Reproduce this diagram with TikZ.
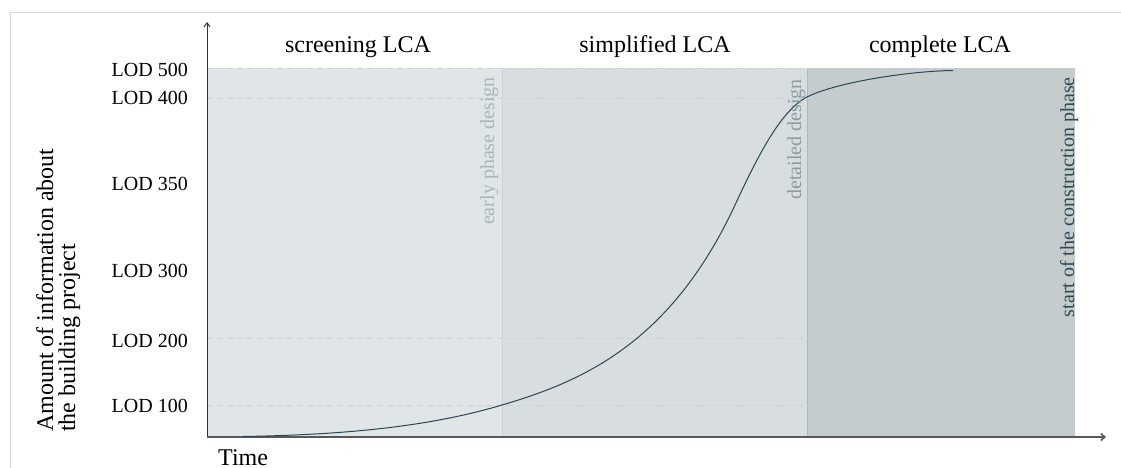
\documentclass[tikz,border=0pt]{standalone}
\usepackage{fontspec}
\setmainfont{Liberation Serif}
\usetikzlibrary{arrows.meta}
\definecolor{regA}{HTML}{E0E6E8}
\definecolor{regB}{HTML}{D8DDE0}
\definecolor{regC}{HTML}{C5CCCE}
\definecolor{gridc}{HTML}{CBD2D5}
\definecolor{framec}{HTML}{D6D6D6}
\definecolor{curvec}{HTML}{2B4652}
\definecolor{lblA}{HTML}{AAB6BB}
\definecolor{lblB}{HTML}{8C9CA3}
\definecolor{lblC}{HTML}{2F4A55}
\definecolor{sepA}{HTML}{CAD2D5}
\definecolor{sepB}{HTML}{AFB9BC}
\tikzset{
  lodlbl/.style={anchor=base east, inner sep=0pt, font=\fontsize{20}{24}\selectfont},
  toplbl/.style={anchor=base, inner sep=0pt, font=\fontsize{24}{28}\selectfont},
  vlbl/.style={anchor=base east, inner sep=0pt, rotate=90, font=\fontsize{20}{24}\selectfont},
  ylbl/.style={anchor=base west, inner sep=0pt, rotate=90, font=\fontsize{24}{28}\selectfont},
  gridline/.style={gridc, line width=0.8pt, dash pattern=on 6pt off 4pt},
}
\begin{document}
\begin{tikzpicture}[x=1pt,y=-1pt]
\useasboundingbox (0,0) rectangle (1121,468);
\fill[white] (0,0) rectangle (1121,468);
% frame
\draw[framec, line width=1pt] (10.5,468) -- (10.5,12.5) -- (1121,12.5);
% regions
\fill[regA] (207,68) rectangle (502,437);
\fill[regB] (502,68) rectangle (807,437);
\fill[regC] (807,68) rectangle (1075,437);
\draw[sepA, line width=0.8pt] (502,68) -- (502,437);
\draw[sepB, line width=0.8pt] (807,68) -- (807,437);
% grid lines
\foreach \yy in {68.5,98,338,405} {
  \draw[gridline] (207,\yy) -- (1075,\yy);
}
% axes
\coordinate (orig) at (207,437);
\coordinate (ytip) at (207,22);
\coordinate (xtip) at (1106,437);
\draw[black!80, line width=1pt, -{Straight Barb[length=4pt,width=6pt]}] (orig) -- (ytip);
\draw[black!65, line width=1.6pt, -{Straight Barb[length=4pt,width=7pt]}] (orig) -- (xtip);
% curve
\draw[curvec, line width=1pt]
  (243,436.5) .. controls (330,435) and (422,429) .. (502,405)
  .. controls (580,382) and (670,345) .. (735,205)
  .. controls (760,151) and (782,110) .. (807,97)
  .. controls (837,82) and (910,71) .. (953,70.5);
% LOD labels
\node[lodlbl] (l500) at (188,77) {LOD 500};
\node[lodlbl] (l400) at (188,105) {LOD 400};
\node[lodlbl] (l350) at (188,190) {LOD 350};
\node[lodlbl] (l300) at (188,277) {LOD 300};
\node[lodlbl] (l200) at (188,347) {LOD 200};
\node[lodlbl] (l100) at (188,412) {LOD 100};
% top labels
\node[toplbl] (scr) at (358,53) {screening LCA};
\node[toplbl] (simp) at (655,53) {simplified LCA};
\node[toplbl] (comp) at (940,53) {complete LCA};
% vertical phase labels
\node[vlbl, text=lblA] (early) at (494,77) {early phase design};
\node[vlbl, text=lblB] (det) at (801,79) {detailed design};
\node[vlbl, text=lblC] (start) at (1074,77) {start of the construction phase};
% axis labels
\node[ylbl] (ya) at (53,432) {Amount of information about};
\node[ylbl] (yb) at (75,432) {the building project};
\node[anchor=base west, inner sep=0pt, font=\fontsize{24}{28}\selectfont] (time) at (218,465) {Time};
\end{tikzpicture}
\end{document}
